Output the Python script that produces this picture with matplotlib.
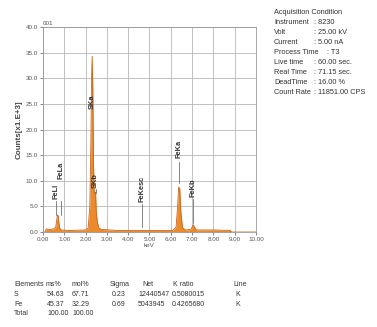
import numpy as np
import matplotlib
matplotlib.use("Agg")
import matplotlib.pyplot as plt

plt.rcParams["font.family"] = ["Liberation Sans", "DejaVu Sans"]

# spectrum outline (keV, counts x1000)
energy = [0.00, 0.10, 0.15, 0.30, 0.50, 0.60, 0.65, 0.68, 0.71, 0.74, 0.78, 0.85,
          1.20, 2.00, 2.12, 2.20, 2.25, 2.28, 2.31, 2.34, 2.37, 2.40, 2.44, 2.47,
          2.50, 2.55, 2.62, 2.75, 3.50, 6.10, 6.25, 6.32, 6.37, 6.42, 6.47, 6.55,
          6.70, 6.95, 7.02, 7.06, 7.12, 7.20, 8.00, 8.80, 8.85, 10.00]
counts = [0.0, 0.0, 0.6, 0.5, 0.6, 1.0, 2.5, 3.3, 3.2, 2.0, 0.8, 0.4,
          0.3, 0.4, 0.8, 5.0, 18.0, 30.0, 34.3, 28.0, 14.0, 8.0, 7.5, 7.8,
          4.0, 2.0, 0.8, 0.5, 0.3, 0.3, 1.0, 5.0, 8.8, 8.5, 4.0, 0.8,
          0.4, 0.5, 1.2, 1.4, 0.9, 0.4, 0.4, 0.3, 0.0, 0.0]

# peak markers: name, energy, label bottom, line bottom, line top
peak_names = ["FeLl", "FeLa", "SKa", "SKb", "FeKesc", "FeKa", "FeKb"]
peak_kev = [0.60, 0.86, 2.31, 2.47, 4.63, 6.40, 7.05]
label_y = [6.4, 10.4, 24.0, 8.6, 5.8, 14.4, 6.8]
line_lo = [3.4, 3.4, None, 7.6, 0.9, 9.5, 1.7]
line_hi = [6.0, 6.0, None, 8.4, 5.4, 13.6, 6.4]

acq_keys = ["Instrument", "Volt", "Current", "Process Time", "Live time",
            "Real Time", "DeadTime", "Count Rate"]
acq_vals = [": 8230", ": 25.00 kV", ": 5.00 nA", ": T3", ": 60.00 sec.",
            ": 71.15 sec.", ": 16.00 %", ": 11851.00 CPS"]

elements = ["S", "Fe", "Total"]
ms_pct = ["54.63", "45.37", "100.00"]
mol_pct = ["67.71", "32.29", "100.00"]
sigma = ["0.23", "0.69", ""]
net = ["12440547", "5043945", ""]
k_ratio = ["0.5080015", "0.4265680", ""]
line_type = ["K", "K", ""]

fig = plt.figure(figsize=(3.77, 3.27), dpi=100)
fig.patch.set_facecolor("white")
ax = fig.add_axes([0.114, 0.2905, 0.565, 0.6265])

ax.fill_between(energy, counts, color="#ec8a2c", linewidth=0)
ax.plot(energy, counts, color="#c8641a", linewidth=0.6)

for name, e, ly, lo, hi in zip(peak_names, peak_kev, label_y, line_lo, line_hi):
    if lo is not None:
        ax.plot([e, e], [lo, hi], color="#555555", linewidth=0.5)
    ax.text(e, ly, name, rotation=90, ha="center", va="bottom",
            fontsize=5.3, fontweight="bold", color="#333333")

ax.set_xlim(0, 10)
ax.set_ylim(0, 40)
ax.set_xticks(np.arange(0, 11, 1))
ax.set_xticklabels([f"{v:.2f}" for v in np.arange(0, 11, 1)])
ax.set_yticks(np.arange(0, 41, 5))
ax.set_yticklabels([f"{v:.1f}" for v in np.arange(0, 41, 5)])
ax.grid(True, color="#b8b8b8", linewidth=0.6)
ax.set_axisbelow(True)
ax.tick_params(labelsize=4.5, colors="#555555", length=2, width=0.5, pad=1.5)
for spine in ax.spines.values():
    spine.set_color("#999999")
    spine.set_linewidth(0.6)

ax.set_xlabel("keV", fontsize=4.5, color="#555555", labelpad=1)
ax.set_ylabel("Counts[x1.E+3]", fontsize=5.8, fontweight="bold", color="#444444", labelpad=2)
ax.text(0.0, 1.005, "001", transform=ax.transAxes, fontsize=4.5,
        color="#555555", ha="left", va="bottom")

# acquisition condition panel
tx = 274 / 377
ty = 1 - 13 / 327
step = 9.9 / 327
fig.text(tx, ty, "Acquisition Condition", fontsize=5.3, color="#333333", va="center")
for i, (k, v) in enumerate(zip(acq_keys, acq_vals)):
    y = ty - (i + 1) * step
    fig.text(tx, y, k, fontsize=5.3, color="#333333", va="center")
    vx = 327 / 377 if k == "Process Time" else 314 / 377
    fig.text(vx, y, v, fontsize=5.3, color="#333333", va="center")

# element table
col_x = [14, 47, 72, 112, 138, 172, 235]
head_x = [14, 46, 72, 110, 142, 173, 233]
headers = ["Elements", "ms%", "mol%", "Sigma", "Net", "K ratio", "Line"]
row_y = [285, 294.5, 304, 313.5]
for h, x in zip(headers, head_x):
    fig.text(x / 377, 1 - row_y[0] / 327, h, fontsize=5, color="#333333", va="center")
for r in range(len(elements)):
    cells = [elements[r], ms_pct[r], mol_pct[r], sigma[r], net[r], k_ratio[r], line_type[r]]
    for c, x in zip(cells, col_x):
        fig.text(x / 377, 1 - row_y[r + 1] / 327, c, fontsize=5,
                 color="#333333", va="center")

fig.savefig("out.png", dpi=100, facecolor=fig.get_facecolor())
plt.close(fig)
